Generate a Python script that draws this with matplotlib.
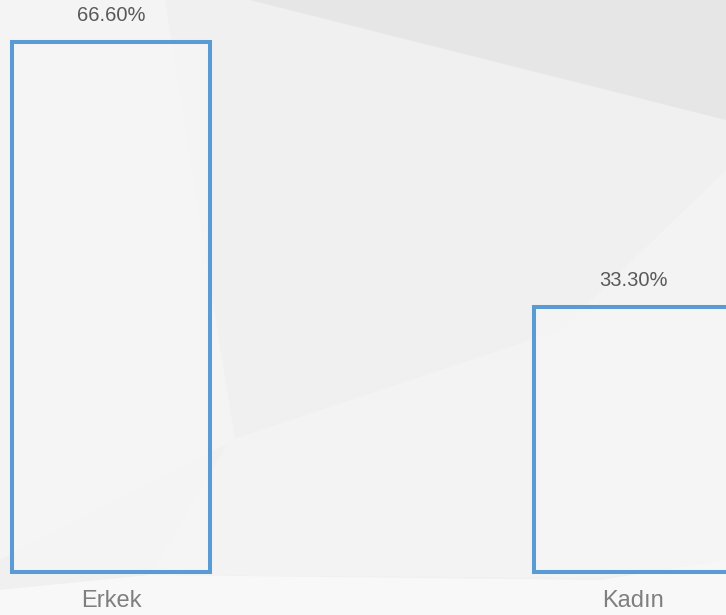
import matplotlib.pyplot as plt
from matplotlib.patches import Polygon
from matplotlib import font_manager

categories = ['Erkek', 'Kadın']
values = [66.6, 33.3]
value_labels = ['66.60%', '33.30%']

names = {f.name for f in font_manager.fontManager.ttflist}
num_font = ['Liberation Sans Narrow', 'Liberation Sans', 'DejaVu Sans']
num_font = [f for f in num_font if f in names] or ['DejaVu Sans']
cat_font = ['Liberation Sans', 'DejaVu Sans']

fig = plt.figure(figsize=(7.26, 6.15), dpi=100)
fig.patch.set_facecolor('#f0f0f0')

# soft background shapes (pixel coords, y down)
bg = fig.add_axes([0, 0, 1, 1])
bg.set_xlim(0, 726)
bg.set_ylim(615, 0)
bg.axis('off')
bg.add_patch(Polygon([(250, 0), (726, 0), (726, 120)], color='#e6e6e6', lw=0))
bg.add_patch(Polygon([(0, 0), (165, 0), (235, 440), (0, 560)], color='#f4f4f4', lw=0))
bg.add_patch(Polygon([(230, 440), (560, 330), (726, 170), (726, 560), (600, 578), (150, 575)], color='#f3f3f3', lw=0))
bg.add_patch(Polygon([(0, 615), (0, 590), (150, 575), (600, 580), (726, 560), (726, 615)], color='#f8f8f8', lw=0))

ax = fig.add_axes([0, 0, 1, 1])
ax.patch.set_alpha(0)
x = list(range(len(categories)))
ax.bar(x, values, width=0.379, facecolor=(0.97, 0.97, 0.97, 0.6), edgecolor='#5b9bd5', linewidth=2.9)
ax.set_xlim(-0.2126, 1.178)
ax.set_ylim(-5.4, 71.88)
ax.axis('off')

for xi, v, lab, cat in zip(x, values, value_labels, categories):
    ax.annotate(lab, (xi, v), xytext=(0, 27), textcoords='offset pixels',
                ha='center', va='center', fontsize=14.5, color='#595959', family=num_font)
    ax.annotate(cat, (xi, 0), xytext=(0, -29), textcoords='offset pixels',
                ha='center', va='center', fontsize=17, color='#7f7f7f', family=cat_font)

plt.savefig('out.png', dpi=100, facecolor=fig.get_facecolor())
